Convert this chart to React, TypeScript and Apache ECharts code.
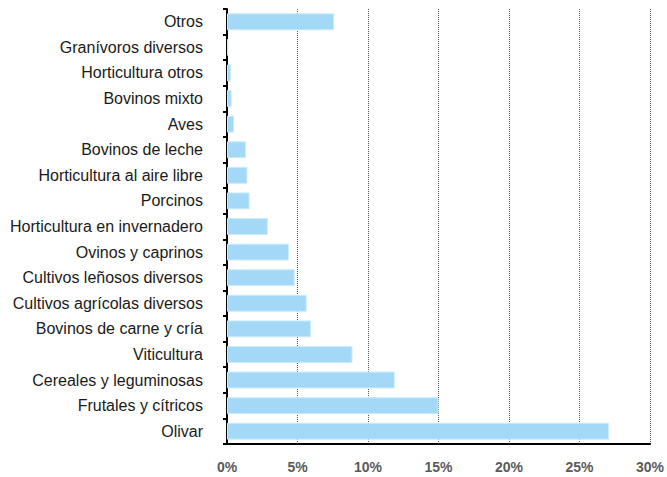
import React, { useEffect, useRef } from "react";
import * as echarts from "echarts";

const categories = [
  "Olivar",
  "Frutales y cítricos",
  "Cereales y leguminosas",
  "Viticultura",
  "Bovinos de carne y cría",
  "Cultivos agrícolas diversos",
  "Cultivos leñosos diversos",
  "Ovinos y caprinos",
  "Horticultura en invernadero",
  "Porcinos",
  "Horticultura al aire libre",
  "Bovinos de leche",
  "Aves",
  "Bovinos mixto",
  "Horticultura otros",
  "Granívoros diversos",
  "Otros",
];

const values = [27.1, 15.0, 11.9, 8.9, 5.95, 5.65, 4.8, 4.4, 2.9, 1.6, 1.45, 1.35, 0.5, 0.33, 0.28, 0.1, 7.6];

const xTicks = [0, 5, 10, 15, 20, 25, 30];

export default function App() {
  const ref = useRef<HTMLDivElement>(null);
  useEffect(() => {
    const chart = echarts.init(ref.current!, null, { renderer: "svg" });
    chart.setOption({
      animation: false,
      grid: { left: 227, right: 16, top: 9, bottom: 33 },
      xAxis: {
        type: "value",
        min: xTicks[0],
        max: xTicks[xTicks.length - 1],
        interval: 5,
        axisLine: { show: true, lineStyle: { color: "#000", width: 2 } },
        axisTick: { show: false },
        axisLabel: {
          formatter: "{value}%",
          color: "#5a5a5a",
          fontWeight: "bold",
          fontSize: 14,
          fontFamily: "Liberation Sans",
          margin: 16,
        },
        splitLine: {
          show: true,
          lineStyle: { color: "#555", type: [1, 1], width: 1 },
        },
      },
      yAxis: {
        type: "category",
        data: categories,
        axisLine: { show: true, lineStyle: { color: "#000", width: 2 } },
        axisTick: { show: true, length: 4, lineStyle: { color: "#000", width: 2 } },
        axisLabel: {
          color: "#1a1a1a",
          fontSize: 16,
          fontFamily: "Liberation Sans",
          margin: 24,
        },
      },
      series: [
        {
          type: "bar",
          data: values,
          barCategoryGap: "34%",
          itemStyle: { color: "#a3d9f7", borderColor: "#c9ebfb", borderWidth: 1 },
        },
      ],
    });
    return () => chart.dispose();
  }, []);
  return (
    <div
      ref={ref}
      style={{ position: "absolute", left: 0, top: 0, width: 667, height: 477 }}
    />
  );
}
